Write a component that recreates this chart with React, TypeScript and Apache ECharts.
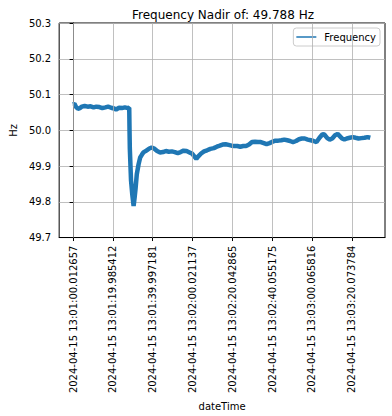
import React, { useEffect, useRef } from "react";
import * as echarts from "echarts";

// seconds elapsed since 2024-04-15 13:01:00.012657
const elapsedSeconds = [
  0, 0.7, 1.4, 2.4, 3.4, 4.4, 5.8, 7.3, 8.8, 10.3, 11.7, 13.2, 14.7, 16.2, 17.6, 19.1, 20.6, 21.6, 23.1, 24.5,
  26.0, 27.5, 28.2, 28.35, 28.5, 29.1, 29.7, 30.4, 30.9, 31.4, 32.0, 32.9, 33.7, 34.6, 35.3, 36.8, 38.3, 39.5,
  40.7, 42.2, 43.7, 45.2, 46.6, 48.1, 49.6, 51.1, 52.6, 54.0, 55.5, 57.0, 58.5, 59.9, 60.9, 61.9, 62.9, 64.3,
  65.8, 67.3, 69.0, 70.7, 72.2, 73.7, 75.1, 76.6, 78.1, 79.6, 81.0, 82.5, 84.0, 85.5, 86.9, 88.4, 89.9, 91.4,
  92.8, 94.3, 95.8, 97.2, 98.7, 100.2, 101.7, 103.1, 104.6, 106.1, 107.6, 109.0, 110.5, 112.0, 113.5, 114.9,
  116.4, 117.9, 119.4, 120.8, 122.3, 123.8, 125.3, 126.2, 127.7, 128.9, 130.2, 131.6, 132.9, 134.1, 135.1,
  136.3, 137.5, 139.0, 140.5, 141.9, 143.4, 144.9, 146.4, 147.9, 149.3,
];

const frequencyHz = [
  50.072, 50.074, 50.066, 50.06, 50.062, 50.066, 50.068, 50.066, 50.067, 50.064, 50.066, 50.065, 50.062, 50.064,
  50.066, 50.063, 50.061, 50.058, 50.063, 50.062, 50.064, 50.062, 50.063, 50.0, 49.949, 49.86, 49.822, 49.788,
  49.811, 49.838, 49.877, 49.905, 49.924, 49.932, 49.938, 49.943, 49.949, 49.952, 49.949, 49.942, 49.938,
  49.939, 49.942, 49.94, 49.941, 49.939, 49.936, 49.939, 49.943, 49.942, 49.938, 49.934, 49.927, 49.92, 49.927,
  49.935, 49.941, 49.944, 49.948, 49.95, 49.954, 49.957, 49.96, 49.961, 49.959, 49.957, 49.956, 49.956, 49.954,
  49.956, 49.956, 49.96, 49.967, 49.968, 49.967, 49.967, 49.964, 49.961, 49.964, 49.968, 49.971, 49.971, 49.972,
  49.974, 49.972, 49.97, 49.967, 49.97, 49.975, 49.977, 49.977, 49.974, 49.972, 49.97, 49.967, 49.979, 49.989,
  49.988, 49.978, 49.974, 49.977, 49.986, 49.99, 49.983, 49.977, 49.974, 49.977, 49.979, 49.981, 49.979,
  49.977, 49.978, 49.979, 49.981, 49.979,
];

const tickSeconds = [0, 20, 40, 60, 80, 100, 120, 140];
const tickLabels = [
  "2024-04-15 13:01:00.012657",
  "2024-04-15 13:01:19.985412",
  "2024-04-15 13:01:39.997181",
  "2024-04-15 13:02:00.021137",
  "2024-04-15 13:02:20.042865",
  "2024-04-15 13:02:40.055175",
  "2024-04-15 13:03:00.065816",
  "2024-04-15 13:03:20.073784",
];

const FONT = "DejaVu Sans";

export default function App() {
  const ref = useRef<HTMLDivElement>(null);
  useEffect(() => {
    if (!ref.current) return;
    const chart = echarts.init(ref.current, null, { renderer: "svg" });
    const nadir = Math.min(...frequencyHz);
    const points = elapsedSeconds.map((t, i) => [t, frequencyHz[i]]);
    chart.setOption({
      animation: false,
      backgroundColor: "#ffffff",
      textStyle: { fontFamily: FONT },
      title: {
        text: `Frequency Nadir of: ${nadir.toFixed(3)} Hz`,
        left: 218,
        top: 4,
        textAlign: "center",
        textStyle: { fontFamily: FONT, fontSize: 12, fontWeight: "normal", color: "#000" },
      },
      legend: {
        right: 12,
        top: 28,
        orient: "vertical",
        data: [{ name: "Frequency", icon: "rect" }],
        itemWidth: 20,
        itemHeight: 1.5,
        itemGap: 0,
        padding: [4, 4, 4, 3],
        borderColor: "#cccccc",
        borderWidth: 1,
        borderRadius: 3,
        backgroundColor: "rgba(255,255,255,0.8)",
        textStyle: { fontFamily: FONT, fontSize: 10, color: "#000", padding: [0, 0, 0, 3] },
      },
      grid: {
        left: 52,
        right: 7,
        top: 23,
        bottom: 176,
        show: true,
        borderColor: "#000",
        borderWidth: 1,
        backgroundColor: "transparent",
      },
      xAxis: {
        type: "value",
        min: -7,
        max: 156.7,
        name: "dateTime",
        nameLocation: "middle",
        nameGap: 159,
        nameTextStyle: { fontFamily: FONT, fontSize: 10, color: "#000" },
        axisLine: { show: true, onZero: false, lineStyle: { color: "#000", width: 1 } },
        axisTick: { show: true, length: 3.5, lineStyle: { color: "#000" }, customValues: tickSeconds },
        axisLabel: {
          customValues: tickSeconds,
          rotate: 90,
          margin: 8,
          fontFamily: FONT,
          fontSize: 10,
          color: "#000",
          formatter: (v: number) => tickLabels[tickSeconds.indexOf(Math.round(v))] ?? "",
        },
        splitLine: { show: false },
      },
      yAxis: {
        type: "value",
        min: 49.7,
        max: 50.3,
        interval: 0.1,
        name: "Hz",
        nameLocation: "middle",
        nameGap: 36,
        nameTextStyle: { fontFamily: FONT, fontSize: 10, color: "#000" },
        axisLine: { show: true, lineStyle: { color: "#000", width: 1 } },
        axisTick: { show: true, length: 3.5, lineStyle: { color: "#000" } },
        axisLabel: {
          margin: 8,
          fontFamily: FONT,
          fontSize: 10,
          color: "#000",
          formatter: (v: number) => v.toFixed(1),
        },
        splitLine: { show: true, lineStyle: { color: "#b0b0b0", width: 0.8 } },
      },
      series: [
        {
          name: "grid",
          type: "line",
          data: [],
          z: 1,
          silent: true,
          markLine: {
            silent: true,
            symbol: ["none", "none"],
            label: { show: false },
            lineStyle: { color: "#b0b0b0", width: 0.8, type: "solid" },
            data: tickSeconds.map((v) => ({ xAxis: v })),
          },
        },
        {
          name: "Frequency",
          type: "line",
          z: 3,
          data: points,
          showSymbol: false,
          symbol: "none",
          color: "#1f77b4",
          lineStyle: { color: "#1f77b4", width: 4.5 },
        },
      ],
    });
    return () => chart.dispose();
  }, []);
  return <div ref={ref} style={{ width: 392, height: 416, position: "absolute", left: 0, top: 0 }} />;
}
